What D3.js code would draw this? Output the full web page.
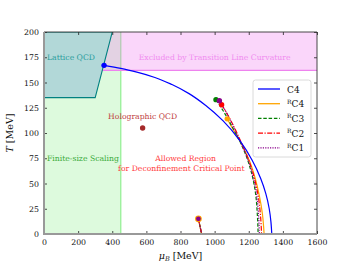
<!DOCTYPE html>
<html>
<head>
<meta charset="utf-8">
<script src="https://cdn.jsdelivr.net/npm/d3@7"></script>
<style>
body { margin: 0; background: #fff; }
text { font-family: "DejaVu Serif", "Liberation Serif", serif; }
</style>
</head>
<body>
<div id="chart"></div>
<script>
// values
var xTicks = [0, 200, 400, 600, 800, 1000, 1200, 1400, 1600];
var yTicks = [0, 25, 50, 75, 100, 125, 150, 175, 200];

var latticePoly = [[0, 135], [300, 135], [400, 200], [0, 200]];
var finiteSizeMax = 450;
var curvatureMin = 162;

var c4 = [[352, 167], [450, 164], [550, 160], [650, 155], [750, 148], [850, 139], [950, 127],
          [1050, 112], [1150, 92], [1220, 73], [1270, 55], [1300, 40], [1320, 25], [1330, 12], [1335, 0]];
var rc4 = [[1074, 114], [1100, 106], [1135, 96], [1170, 85], [1205, 72], [1238, 55], [1262, 38], [1280, 20], [1290, 0]];
var rc3 = [[1008, 133], [1050, 122], [1100, 107], [1150, 91], [1190, 75], [1220, 58], [1240, 40], [1250, 20], [1255, 0]];
var rc2 = [[1041, 128], [1080, 117], [1120, 104], [1160, 89], [1200, 73], [1232, 56], [1255, 38], [1268, 20], [1275, 0]];
var rc1 = [[1028, 132], [1070, 120], [1110, 106], [1155, 90], [1195, 74], [1225, 57], [1245, 40], [1257, 20], [1262, 0]];
var lowBranch = [[905, 15], [924, 0]];
var holographic = [578, 105];

var series = [
    {name: "C4", pre: "", pts: c4, color: "#0000ff", dash: null, low: false},
    {name: "C4", pre: "R", pts: rc4, color: "#ffa500", dash: null, low: true},
    {name: "C3", pre: "R", pts: rc3, color: "#008000", dash: "3.5,1.8", low: true},
    {name: "C2", pre: "R", pts: rc2, color: "#ff0000", dash: "5,1.5,1.2,1.5", low: true},
    {name: "C1", pre: "R", pts: rc1, color: "#8b008b", dash: "1.2,1.2", low: true}
];

var W = 352, H = 264;
var margin = {left: 44, right: 35, top: 32, bottom: 30};

var svg = d3.select("#chart").append("svg")
    .attr("width", W).attr("height", H)
    .style("background", "#fff");

var x = d3.scaleLinear().domain([0, 1600]).range([margin.left, W - margin.right]);
var y = d3.scaleLinear().domain([0, 200]).range([H - margin.bottom, margin.top]);

svg.append("clipPath").attr("id", "clip").append("rect")
    .attr("x", x(0)).attr("y", y(200)).attr("width", x(1600) - x(0)).attr("height", y(0) - y(200));
var g = svg.append("g").attr("clip-path", "url(#clip)");

// finite-size scaling band
g.append("rect")
    .attr("x", x(0)).attr("y", y(200))
    .attr("width", x(finiteSizeMax) - x(0)).attr("height", y(0) - y(200))
    .attr("fill", "#90ee90").attr("fill-opacity", 0.3);
g.append("line")
    .attr("x1", x(finiteSizeMax)).attr("x2", x(finiteSizeMax))
    .attr("y1", y(0)).attr("y2", y(200))
    .attr("stroke", "#90ee90").attr("stroke-width", 1.2);

// curvature-excluded band
g.append("rect")
    .attr("x", x(0)).attr("y", y(200))
    .attr("width", x(1600) - x(0)).attr("height", y(curvatureMin) - y(200))
    .attr("fill", "#f080f0").attr("fill-opacity", 0.32);
g.append("line")
    .attr("x1", x(0)).attr("x2", x(1600))
    .attr("y1", y(curvatureMin)).attr("y2", y(curvatureMin))
    .attr("stroke", "#ee82ee").attr("stroke-width", 1.2);

// lattice QCD polygon
g.append("path")
    .attr("d", "M" + latticePoly.map(function(p) { return x(p[0]) + "," + y(p[1]); }).join("L") + "Z")
    .attr("fill", "#b2d8d8")
    .attr("stroke", "#008080").attr("stroke-width", 1.1);

var line = d3.line().x(function(d) { return x(d[0]); }).y(function(d) { return y(d[1]); })
    .curve(d3.curveMonotoneY);
var straight = d3.line().x(function(d) { return x(d[0]); }).y(function(d) { return y(d[1]); });

// R curves first, then C4 on top
series.slice(1).concat([series[0]]).forEach(function(s) {
    g.append("path").attr("d", line(s.pts))
        .attr("fill", "none").attr("stroke", s.color)
        .attr("stroke-width", 1.2)
        .attr("stroke-dasharray", s.dash);
    if (s.low) {
        g.append("path").attr("d", straight(lowBranch))
            .attr("fill", "none").attr("stroke", s.color).attr("stroke-width", 1.2)
            .attr("stroke-dasharray", s.dash);
    }
});

// dots
series.slice(1).forEach(function(s) {
    g.append("circle").attr("cx", x(s.pts[0][0])).attr("cy", y(s.pts[0][1]))
        .attr("r", 2.7).attr("fill", s.color);
});
g.append("circle").attr("cx", x(lowBranch[0][0])).attr("cy", y(lowBranch[0][1]))
    .attr("r", 3.4).attr("fill", "#ffa500");
g.append("circle").attr("cx", x(lowBranch[0][0])).attr("cy", y(lowBranch[0][1]))
    .attr("r", 2.4).attr("fill", "#8b008b");
g.append("circle").attr("cx", x(c4[0][0])).attr("cy", y(c4[0][1]))
    .attr("r", 2.7).attr("fill", "#0000ff");
g.append("circle").attr("cx", x(holographic[0])).attr("cy", y(holographic[1]))
    .attr("r", 2.7).attr("fill", "#a52a2a");

// region labels
function label(txt, px, py, color, anchor) {
    svg.append("text").attr("x", px).attr("y", py)
        .attr("fill", color).attr("font-size", 7.7)
        .attr("text-anchor", anchor || "start").text(txt);
}
label("Lattice QCD", x(0) + 3, y(175) + 2.6, "#2a9d9d");
label("Excluded by Transition Line Curvature", x(1000), y(175) + 2.6, "#f08cf0", "middle");
label("Holographic QCD", x(578), y(116) + 2.6, "#c04040", "middle");
label("Finite-size Scaling", x(0) + 3, y(75) + 2.6, "#3aaa3a");
label("Allowed Region", x(830), y(75) + 2.6, "#ff3b3b", "middle");
label("for Deconfinement Critical Point", x(805), y(65) + 2.6, "#ff3b3b", "middle");

// axes, ticks pointing inward on all sides
var xAxis = d3.axisBottom(x).tickValues(xTicks).tickSize(-3).tickPadding(5).tickFormat(d3.format("d"));
var xTop = d3.axisTop(x).tickValues(xTicks).tickSize(-3).tickFormat("");
var yAxis = d3.axisLeft(y).tickValues(yTicks).tickSize(-3).tickPadding(5).tickFormat(d3.format("d"));
var yRight = d3.axisRight(y).tickValues(yTicks).tickSize(-3).tickFormat("");

function styleAxis(sel) {
    sel.select(".domain").remove();
    sel.selectAll(".tick line").attr("stroke", "#222").attr("stroke-width", 0.8);
    sel.selectAll(".tick text").attr("font-family", "DejaVu Serif, serif").attr("font-size", 7.8).attr("fill", "#111");
}
svg.append("g").attr("transform", "translate(0," + y(0) + ")").call(xAxis).call(styleAxis);
svg.append("g").attr("transform", "translate(0," + y(200) + ")").call(xTop).call(styleAxis);
svg.append("g").attr("transform", "translate(" + x(0) + ",0)").call(yAxis).call(styleAxis);
svg.append("g").attr("transform", "translate(" + x(1600) + ",0)").call(yRight).call(styleAxis);

// spines
svg.append("line").attr("x1", x(0)).attr("x2", x(1600)).attr("y1", y(200)).attr("y2", y(200))
    .attr("stroke", "#333").attr("stroke-width", 0.9);
svg.append("line").attr("x1", x(1600)).attr("x2", x(1600)).attr("y1", y(0)).attr("y2", y(200))
    .attr("stroke", "#333").attr("stroke-width", 0.9);
svg.append("line").attr("x1", x(0)).attr("x2", x(0)).attr("y1", y(0) + 1).attr("y2", y(200))
    .attr("stroke", "#999").attr("stroke-width", 2);
svg.append("line").attr("x1", x(0) - 1).attr("x2", x(1600)).attr("y1", y(0)).attr("y2", y(0))
    .attr("stroke", "#999").attr("stroke-width", 2);

// axis titles
var yl = svg.append("text").attr("transform", "translate(13," + y(100) + ") rotate(-90)")
    .attr("text-anchor", "middle").attr("font-size", 9.5).attr("fill", "#111");
yl.append("tspan").attr("font-style", "italic").text("T");
yl.append("tspan").text(" [MeV]");
var xl = svg.append("text").attr("x", x(800)).attr("y", H - 5)
    .attr("text-anchor", "middle").attr("font-size", 9.5).attr("fill", "#111");
xl.append("tspan").attr("font-style", "italic").text("μ");
xl.append("tspan").attr("font-style", "italic").attr("font-size", 6.5).attr("dy", 2).text("B");
xl.append("tspan").attr("dy", -2).text(" [MeV]");

// legend
var lg = svg.append("g").attr("transform", "translate(253,80)");
lg.append("rect").attr("width", 58).attr("height", 77).attr("rx", 2.5)
    .attr("fill", "#fff").attr("fill-opacity", 0.85)
    .attr("stroke", "#d0d0d0").attr("stroke-width", 0.8);
series.forEach(function(s, i) {
    var yy = 9 + i * 14.7;
    lg.append("line").attr("x1", 5).attr("x2", 27).attr("y1", yy).attr("y2", yy)
        .attr("stroke", s.color).attr("stroke-width", 1.3).attr("stroke-dasharray", s.dash);
    var t = lg.append("text").attr("x", 34).attr("y", yy + 3.5).attr("font-size", 9).attr("fill", "#111");
    if (s.pre) t.append("tspan").attr("font-size", 6).attr("dy", -3.5).text(s.pre);
    t.append("tspan").attr("dy", s.pre ? 3.5 : 0).text(s.name);
});
</script>
</body>
</html>
